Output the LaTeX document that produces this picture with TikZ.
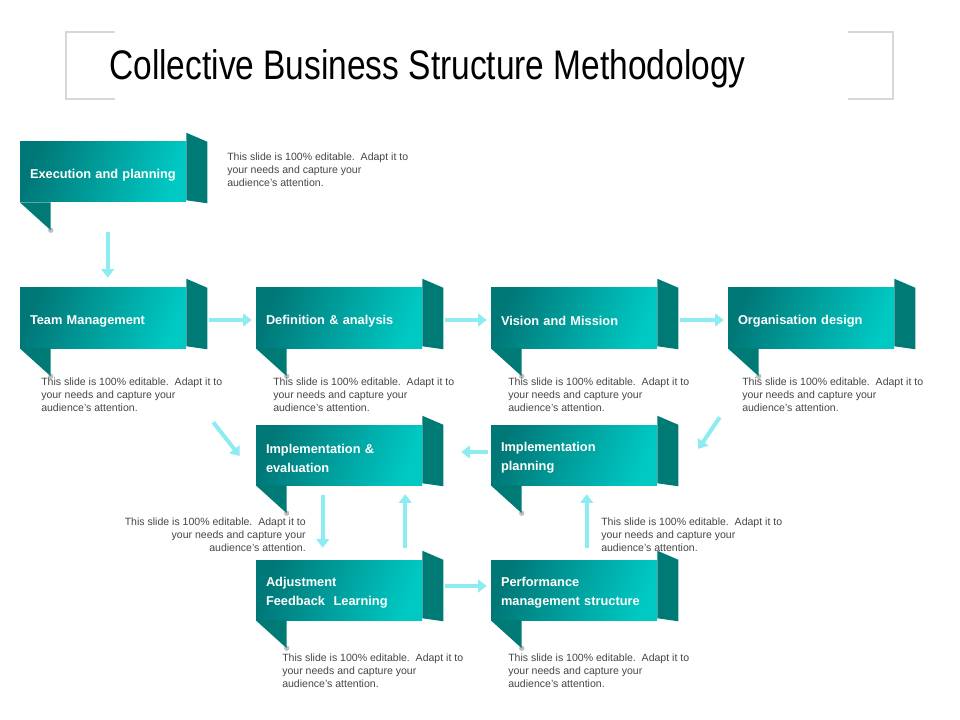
\documentclass[tikz,border=0pt]{standalone}
\usepackage{fontspec}
\setmainfont{Liberation Sans}
\newfontfamily\titlefont[FakeStretch=0.81]{Liberation Sans}
\usetikzlibrary{calc,arrows.meta}
\definecolor{tealA}{RGB}{0,120,120}
\definecolor{tealB}{RGB}{0,200,195}
\definecolor{flapc}{RGB}{0,122,116}
\definecolor{arrowc}{RGB}{140,236,242}
\definecolor{desc}{RGB}{70,70,70}
\definecolor{framec}{RGB}{215,215,215}
\tikzset{
  ribbon/.style={shading=axis, top color=tealA, bottom color=tealB, shading angle=70,
    minimum width=124.5pt, minimum height=45pt, inner xsep=7.5pt, inner ysep=0pt,
    text width=109.5pt, align=left, text=white, font=\fontsize{9.6}{14.25}\selectfont\bfseries,
    execute at begin node={\hyphenpenalty=10000\exhyphenpenalty=10000\rule{0pt}{11.5pt}}},
  flap/.style={fill=flapc},
  tipshadow/.style={fill=black, opacity=0.25},
  desctext/.style={text=desc, inner sep=0pt, font=\fontsize{7.9}{9.75}\selectfont},
  arr/.style={draw=arrowc, line width=3pt, -{Triangle[width=9.5pt,length=6.5pt]}},
  frameline/.style={draw=framec, line width=1.5pt}
}
\newcommand{\ribbonflaps}[1]{%
  \fill[flap] (#1.north east) -- ($(#1.north east)+(0,-9)$) -- ($(#1.north east)+(21,0)$) -- ($(#1.south east)+(21,1)$) -- ($(#1.south east)+(0,-2)$) -- cycle;
  \fill[tipshadow] ($(#1.south west)+(31,28)$) circle[radius=2pt];
  \fill[flap] (#1.south west) -- ($(#1.south west)+(31,0)$) -- ($(#1.south west)+(31,28)$) -- cycle;
}
\begin{document}
\begin{tikzpicture}[x=0.75pt,y=-0.75pt]
\useasboundingbox[fill=white] (0,0) rectangle (960,720);
% title frame
\draw[frameline] (115,32) -- (66,32) -- (66,99) -- (115,99);
\draw[frameline] (848,32) -- (893,32) -- (893,99) -- (848,99);
\node[anchor=west, inner sep=0pt, font=\titlefont\fontsize{31}{36}\selectfont] (title) at (109,69) {Collective Business Structure Methodology};

% ribbons
\node[ribbon] (exe) at (103,172) {Execution~and~planning};
\node[ribbon] (tm)  at (103,318) {Team Management};
\node[ribbon] (def) at (339,318) {Definition \& analysis};
\node[ribbon] (vis) at (574,318) {Vision and Mission};
\node[ribbon] (org) at (811,318) {Organisation design};
\node[ribbon] (ie)  at (339,455) {Implementation \&\\evaluation};
\node[ribbon] (ip)  at (574,455) {Implementation\\planning};
\node[ribbon] (adj) at (339,590) {Adjustment\\Feedback\ \ Learning};
\node[ribbon] (pm)  at (574,590) {Performance\\management~structure};
\foreach \n in {exe,tm,def,vis,org,ie,ip,adj,pm} {\ribbonflaps{\n}}

% descriptions
\newcommand{\desctxt}{This slide is 100\% editable.\ \ Adapt it to\\your needs and capture your\\audience's attention.}
\node[desctext, anchor=north west, align=left] (d0) at (227,153) {\desctxt};
\node[desctext, anchor=north west, align=left] (d1) at (41,378) {\desctxt};
\node[desctext, anchor=north west, align=left] (d2) at (273,378) {\desctxt};
\node[desctext, anchor=north west, align=left] (d3) at (508,378) {\desctxt};
\node[desctext, anchor=north west, align=left] (d4) at (742,378) {\desctxt};
\node[desctext, anchor=north east, align=right] (d5) at (306,518) {\desctxt};
\node[desctext, anchor=north west, align=left] (d6) at (601,518) {\desctxt};
\node[desctext, anchor=north west, align=left] (d7) at (282,654) {\desctxt};
\node[desctext, anchor=north west, align=left] (d8) at (508,654) {\desctxt};

% connectors
\draw[arr] ($(exe.south west)+(88,30)$) -- ($(tm.north west)+(88,-10)$);
\draw[arr] ($(tm.east)+(23,2)$) -- ($(def.west)+(-4,2)$);
\draw[arr] ($(def.east)+(23,2)$) -- ($(vis.west)+(-4,2)$);
\draw[arr] ($(vis.east)+(23,2)$) -- ($(org.west)+(-4,2)$);
\draw[arr] ($(tm.south east)+(27,74)$) -- ($(ie.west)+(-16,1)$);
\draw[arr] ($(org.south west)+(-8,69)$) -- ($(ip.east)+(41,-6)$);
\draw[arr] ($(ip.west)+(-3,-3)$) -- ($(ie.east)+(39,-3)$);
\draw[arr] ($(ie.south west)+(67,10)$) -- ($(adj.north west)+(67,-12)$);
\draw[arr] ($(adj.north east)+(-17,-12)$) -- ($(ie.south east)+(-17,9)$);
\draw[arr] ($(pm.north west)+(96,-12)$) -- ($(ip.south west)+(96,9)$);
\draw[arr] ($(adj.east)+(23,-4)$) -- ($(pm.west)+(-4,-4)$);
\end{tikzpicture}
\end{document}
